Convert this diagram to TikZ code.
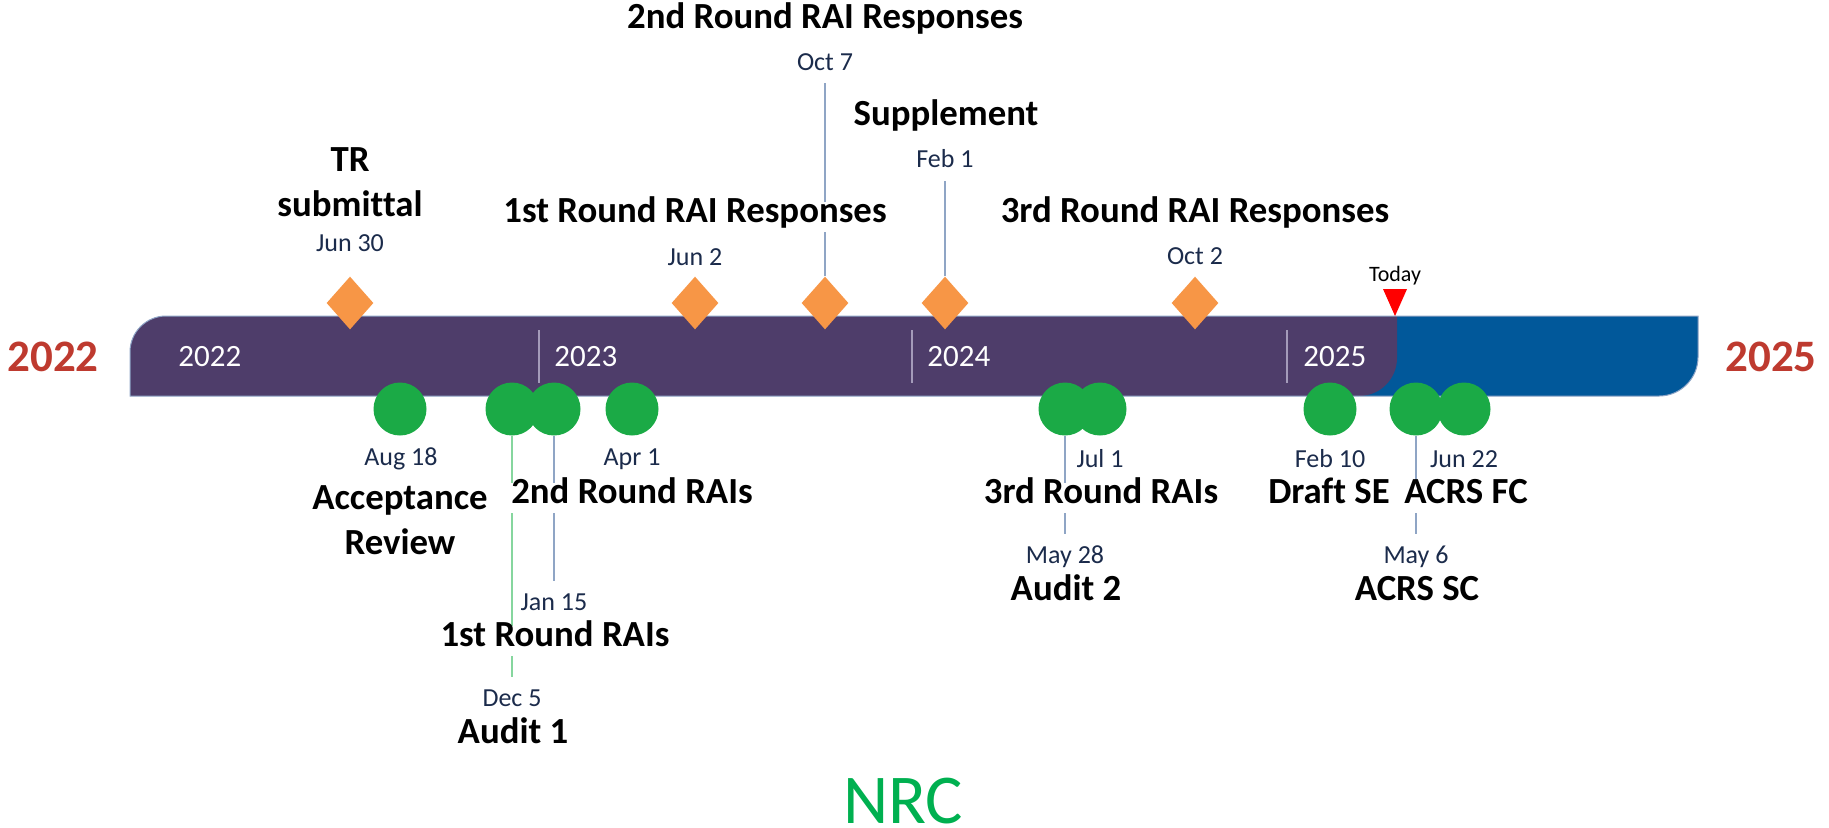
\documentclass[tikz,border=0pt]{standalone}
\usepackage{fontspec}
\setmainfont[Ligatures=NoCommon]{Carlito}
\usepackage{tikz}
\usetikzlibrary{shapes.geometric}
\definecolor{TlPurple}{HTML}{4E3D6A}
\definecolor{TlBlue}{HTML}{01589A}
\definecolor{TlEdge}{HTML}{8EA4C6}
\definecolor{TlTick}{HTML}{A49BBA}
\definecolor{TlOrange}{HTML}{F79646}
\definecolor{TlGreen}{HTML}{1BAA46}
\definecolor{TlLeaf}{HTML}{86D69E}
\definecolor{TlStem}{HTML}{8FA5C5}
\definecolor{TlNavy}{HTML}{1B2B4B}
\definecolor{TlRed}{HTML}{BE3A2F}
\definecolor{TlNrc}{HTML}{00B050}

\begin{document}
\begin{tikzpicture}[x=0.5pt,y=-0.5pt,
  event/.style={font=\fontsize{18.4}{22.5}\selectfont\bfseries,fill=white,inner xsep=2pt,inner ysep=3pt,text height=0.7em,text depth=0.2em},
  eventtwo/.style={font=\fontsize{18.4}{22.5}\selectfont\bfseries,align=center,inner sep=0pt},
  datelbl/.style={font=\fontsize{13}{15}\selectfont,text=TlNavy,inner sep=6pt},
  barlbl/.style={font=\fontsize{15.5}{18}\selectfont,text=white,anchor=west,inner sep=0pt},
  endyear/.style={font=\fontsize{22.5}{26}\selectfont\bfseries,text=TlRed},
  mile/.style={diamond,fill=TlOrange,inner sep=0pt,minimum width=23.5pt,minimum height=26.5pt},
  dot/.style={circle,fill=TlGreen,inner sep=0pt,minimum size=26.5pt},
  stem/.style={draw=TlStem,line width=0.8pt}]
\useasboundingbox (0,0) rectangle (1829,827);
% the bar
\fill[TlBlue] (1360,316) -- (1698,316) -- (1698,357) arc[start angle=0,end angle=90,radius=39] -- (1360,396) -- cycle;
\fill[TlPurple] (130,396) -- (130,352) arc[start angle=180,end angle=270,radius=36] -- (1397,316) -- (1397,358) arc[start angle=0,end angle=90,radius=38] -- cycle;
\draw[TlEdge,line width=0.5pt] (130,396) -- (130,352) arc[start angle=180,end angle=270,radius=36] -- (1698,316) -- (1698,357) arc[start angle=0,end angle=90,radius=39] -- cycle;
\draw[TlTick,line width=0.8pt] (539,330) -- (539,383);
\draw[TlTick,line width=0.8pt] (912,330) -- (912,383);
\draw[TlTick,line width=0.8pt] (1287,330) -- (1287,383);
\node[barlbl] (bar22) at (178,357) {2022};
\node[barlbl] (bar23) at (554,357) {2023};
\node[barlbl] (bar24) at (927,357) {2024};
\node[barlbl] (bar25) at (1303,357) {2025};
\node[endyear] (yr22) at (53,357) {2022};
\node[endyear] (yr25) at (1771,357) {2025};
% today
\node[font=\fontsize{11}{13}\selectfont] (today) at (1395,276) {Today};
\fill[red] (1383,289) -- (1407,289) -- (1395,316) -- cycle;
% submittals above
\node[mile] (dTR) at (350,303) {};
\node[mile] (dRsp1) at (695,303) {};
\node[mile] (dRsp2) at (825,303) {};
\node[mile] (dSup) at (945,303) {};
\node[mile] (dRsp3) at (1195,303) {};
\node[datelbl] (jun30) at (350,243) {Jun 30};
\node[datelbl] (jun2) at (695,257) {Jun 2};
\node[datelbl] (oct7) at (825,62) {Oct 7};
\node[datelbl] (feb1) at (945,159) {Feb 1};
\node[datelbl] (oct2) at (1195,256) {Oct 2};
% NRC actions below
\node[dot] (cAud1) at (512,409) {};
\node[dot] (cRai1) at (554,409) {};
\node[dot] (cAcc) at (400,409) {};
\node[dot] (cRai2) at (632,409) {};
\node[dot] (cAud2) at (1065,409) {};
\node[dot] (cRai3) at (1100,409) {};
\node[dot] (cDse) at (1330,409) {};
\node[dot] (cSc) at (1416,409) {};
\node[dot] (cFc) at (1464,409) {};
\node[datelbl] (aug18) at (401,459) {Aug 18};
\node[datelbl] (dec5) at (512,698) {Dec 5};
\node[datelbl] (jan15) at (554,602) {Jan 15};
\node[datelbl] (apr1) at (632,459) {Apr 1};
\node[datelbl] (may28) at (1065,557) {May 28};
\node[datelbl] (jul1) at (1100,459) {Jul 1};
\node[datelbl] (feb10) at (1330,459) {Feb 10};
\node[datelbl] (may6) at (1416,557) {May 6};
\node[datelbl] (jun22) at (1464,459) {Jun 22};
% stems
\draw[stem] (dRsp2.north) -- (oct7.south);
\draw[stem] (dSup.north) -- (feb1.south);
\draw[stem,draw=TlLeaf] (cAud1.south) -- (dec5.north);
\draw[stem] (cRai1.south) -- (jan15.north);
\draw[stem] (cAud2.south) -- (may28.north);
\draw[stem] (cSc.south) -- (may6.north);
% event names
\node[eventtwo] (tTR) at (350,182) {TR\\submittal};
\node[event] (tRsp1) at (695,217) {1st Round RAI Responses};
\node[event] (tRsp2) at (825,23) {2nd Round RAI Responses};
\node[event] (tSup) at (946,120) {Supplement};
\node[event] (tRsp3) at (1195,217) {3rd Round RAI Responses};
\node[eventtwo] (tAcc) at (400,520) {Acceptance\\Review};
\node[event] (tRai2) at (632,498) {2nd Round RAIs};
\node[event] (tRai1) at (555,641) {1st Round RAIs};
\node[event] (tAud1) at (513,738) {Audit 1};
\node[event] (tRai3) at (1101,498) {3rd Round RAIs};
\node[event] (tAud2) at (1066,595) {Audit 2};
\node[event] (tDse) at (1329,498) {Draft SE};
\node[event] (tFc) at (1466,498) {ACRS FC};
\node[event] (tSc) at (1417,595) {ACRS SC};
\node[font=\fontsize{35}{40}\selectfont,text=TlNrc,inner sep=0pt] (nrc) at (903,801) {NRC};
\end{tikzpicture}
\end{document}
